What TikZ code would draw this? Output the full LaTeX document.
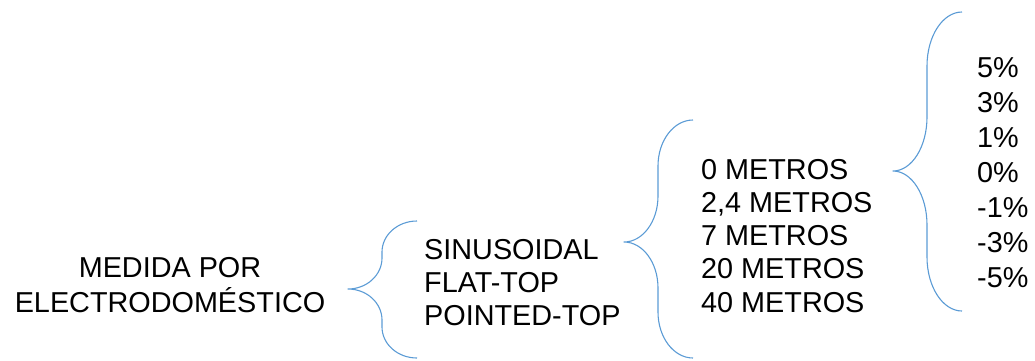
\documentclass[tikz,border=0pt]{standalone}
\usepackage{fontspec}
\setmainfont{Liberation Sans}
\definecolor{braceblue}{RGB}{91,155,213}

% Curly brace opening to the right, built from quarter ellipses:
% #1 end x, #2 stem x, #3 tip x, #4 top y, #5 tip y, #6 bottom y, #7 bend length
\newcommand\curlybrace[7]{%
  \draw[bracestyle]
    (#1,#4) .. controls ({#1-0.552*(#1-#2)},#4) and (#2,{#4+0.448*#7}) .. (#2,#4+#7)
    -- (#2,#5-#7) .. controls (#2,{#5-0.448*#7}) and ({#3+0.552*(#2-#3)},#5) .. (#3,#5)
    .. controls ({#3+0.552*(#2-#3)},#5) and (#2,{#5+0.448*#7}) .. (#2,#5+#7)
    -- (#2,#6-#7) .. controls (#2,{#6-0.448*#7}) and ({#1-0.552*(#1-#2)},#6) .. (#1,#6);}

\begin{document}
\begin{tikzpicture}[x=1pt,y=-1pt,
  bracestyle/.style={draw=braceblue,line width=1.1pt,line join=round},
  label/.style={inner sep=0pt,anchor=base west,font=\fontsize{28.8}{33}\selectfont},
  title/.style={inner sep=0pt,anchor=base,font=\fontsize{28.8}{33}\selectfont}]
  \useasboundingbox (0,0) rectangle (1035,360);

  % root label
  \node[title] (m1) at (170,277) {MEDIDA POR};
  \node[title] (m2) at (170,312) {ELECTRODOMÉSTICO};

  % waveform types
  \curlybrace{417}{382}{348}{221}{289}{358}{31}
  \foreach \t [count=\i] in {SINUSOIDAL,FLAT-TOP,POINTED-TOP}
    \node[label] (w\i) at (424,259+33.4*\i-33.4) {\t};

  % distances
  \curlybrace{693}{658}{624}{120}{242}{358}{46}
  \foreach \t [count=\i] in {0 METROS,{2,4 METROS},7 METROS,20 METROS,40 METROS}
    \node[label] (d\i) at (701,179+33.25*\i-33.25) {\t};

  % percentage deviations
  \curlybrace{962}{927}{893}{12}{171}{311}{54}
  \foreach \t [count=\i] in {5\%,3\%,1\%,0\%,-1\%,-3\%,-5\%}
    \node[label] (p\i) at (977,77.6+35*\i-35) {\t};
\end{tikzpicture}
\end{document}
